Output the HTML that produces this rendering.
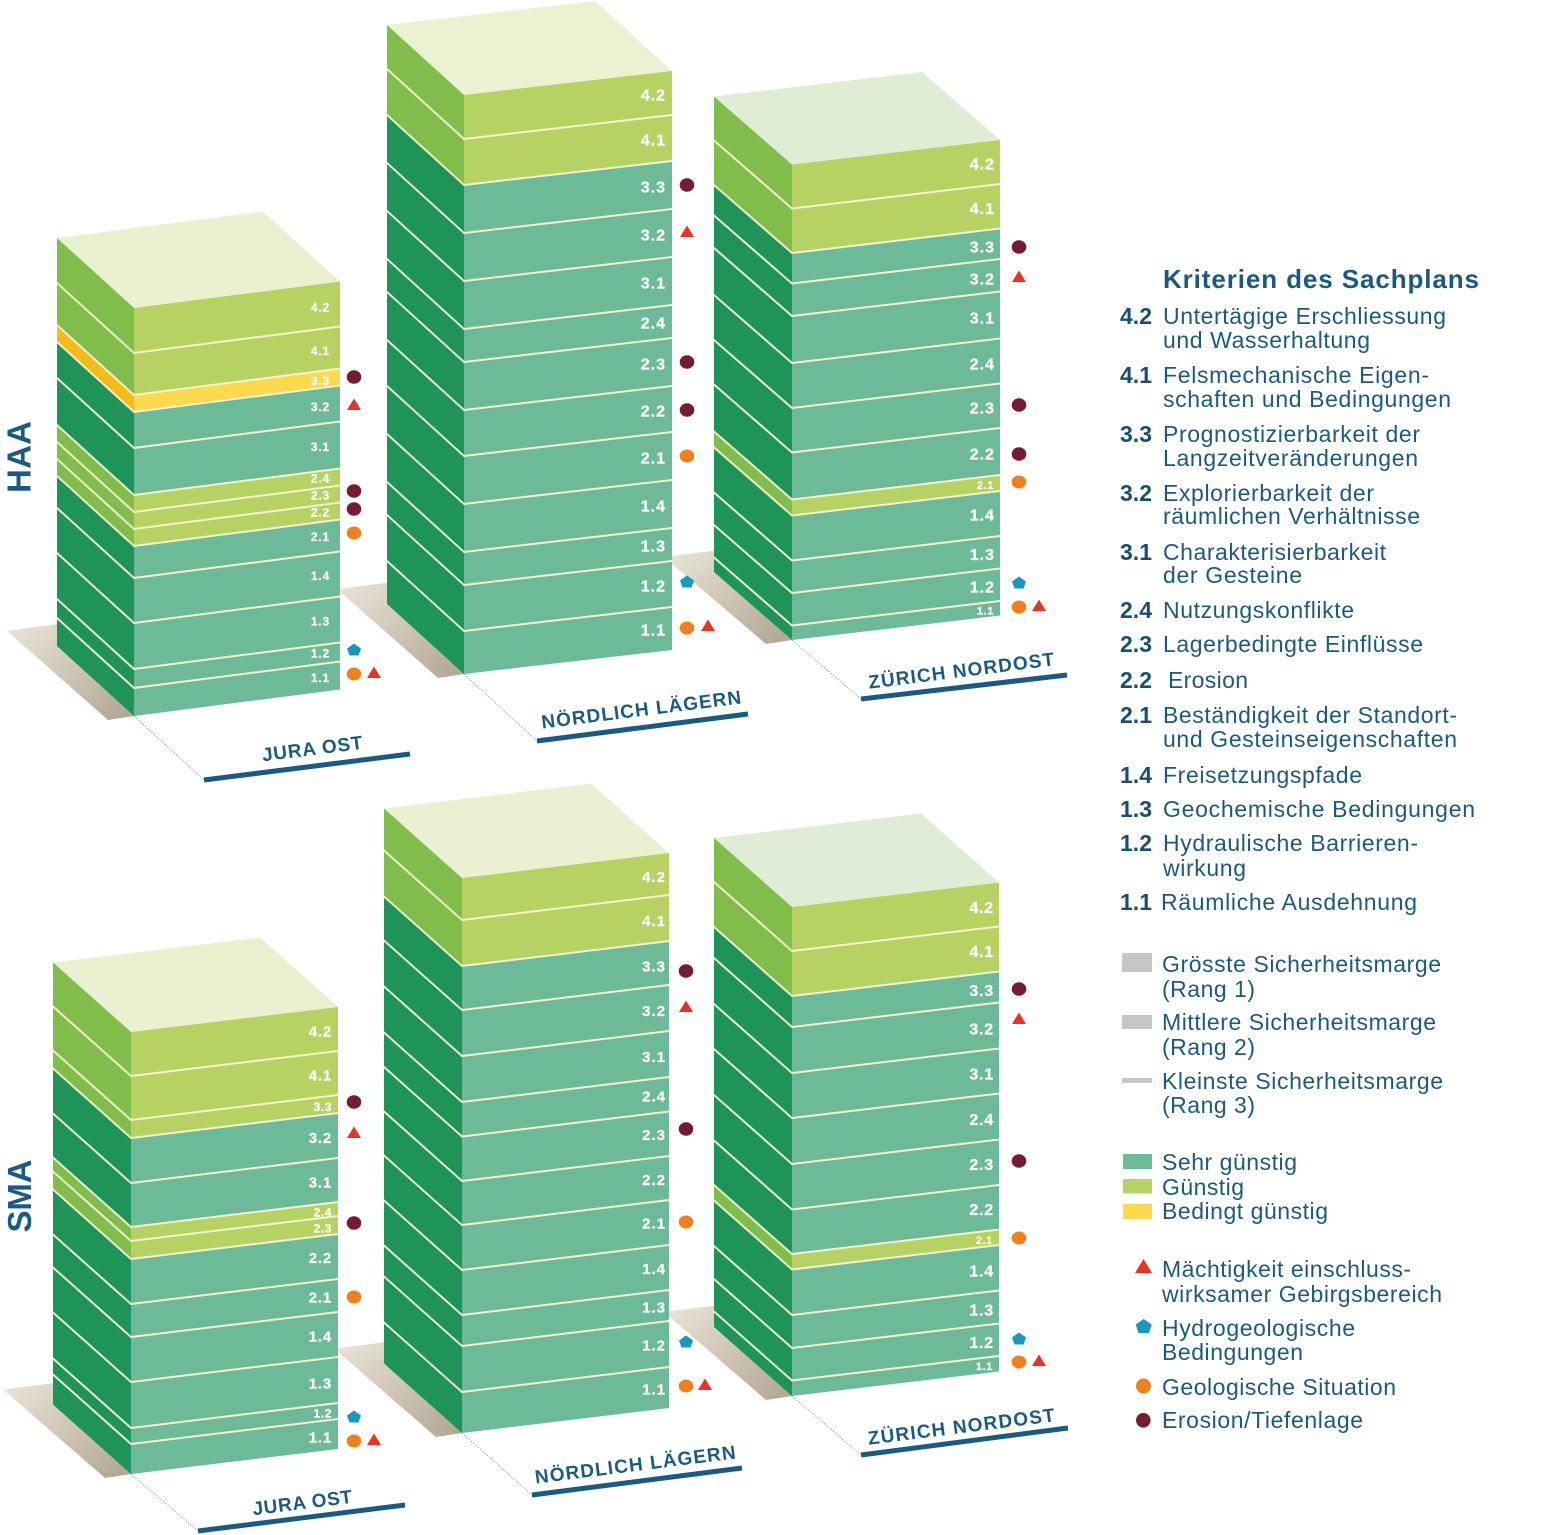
<!DOCTYPE html>
<html><head><meta charset="utf-8"><style>
html,body{margin:0;padding:0;background:#fff;}
svg{display:block}
.t{fill:#6dba98}.g{fill:#b5d262}.y{fill:#fdd94e}
.dt{fill:#1e9459}.dg{fill:#80bd4b}.dy{fill:#f5bb1a}
.sep{stroke:#f4f2cf;stroke-width:2;fill:none}
.sepl{stroke:#f4f2cf;stroke-width:2.6;fill:none}
.lb{font-family:"Liberation Sans",sans-serif;font-weight:bold;fill:#fff;stroke:#fff;stroke-width:.25;text-anchor:end;dominant-baseline:central}
.s1{font-size:12px;letter-spacing:.8px}.s2{font-size:16px;letter-spacing:1px}.s4{font-size:15px;letter-spacing:.8px}.sm{font-size:11px;letter-spacing:.6px}.sm2{font-size:12px;letter-spacing:.6px}
.gl{font-family:"Liberation Sans",sans-serif;font-weight:bold;font-size:19px;fill:#1a5b84;text-anchor:middle}
.ul{stroke:#1a5b84;stroke-width:5;fill:none}
.dot{stroke:#5b86aa;stroke-width:.8;stroke-dasharray:1.2 1.8;fill:none}
.lg{font-family:"Liberation Sans",sans-serif;font-size:23px;fill:#1a5a80}
.ln{font-family:"Liberation Sans",sans-serif;font-size:23px;font-weight:bold;fill:#174f73}
.big{font-family:"Liberation Sans",sans-serif;font-weight:bold;font-size:33px;fill:#1a5b84;text-anchor:middle}
</style></head><body>
<svg width="1561" height="1535" viewBox="0 0 1561 1535" xmlns="http://www.w3.org/2000/svg">
<defs>
<linearGradient id="sh" x1="0" y1="0" x2="1" y2="1"><stop offset="0" stop-color="#ece7dc"/><stop offset="1" stop-color="#b1a590"/></linearGradient>
<polygon id="tri" points="-7,5 7,5 0,-6.5" fill="#e63323"/>
<polygon id="pent" points="0,-6.5 7,-1.5 4.5,5.5 -4.5,5.5 -7,-1.5" fill="#1898bf"/>
<ellipse id="dc" rx="7.3" ry="6.8" fill="#761c30"/>
<ellipse id="oc" rx="7.3" ry="6.5" fill="#f07f1e"/>
</defs>
<rect width="1561" height="1535" fill="#fff"/>

<!-- shadows -->
<polygon points="7,631 87,620 134,716 108,720" fill="url(#sh)"/>
<polygon points="337,589 417,579 464,674 438,678" fill="url(#sh)"/>
<polygon points="664,557 744,547 792,640 766,644" fill="url(#sh)"/>
<polygon points="3,1389.5 83,1379.5 131,1474 105,1478" fill="url(#sh)"/>
<polygon points="334,1348.5 414,1338.5 462,1433 436,1437" fill="url(#sh)"/>
<polygon points="664,1312 744,1302 792,1396 766,1400" fill="url(#sh)"/>

<!-- dotted ground lines, underlines, labels -->
<path class="dot" d="M134 716L204 780M464 674L537 741M792 640L861 699M131 1474L198 1531M462 1433L532 1495M792 1396L861 1455"/>
<path class="ul" d="M204 780L410 754M537 741L748 714M861 699L1067 675M198 1531L405 1505M532 1495L742 1468M861 1455L1068 1428"/>
<text class="gl" transform="translate(313,755) rotate(-7.2)" textLength="101">JURA OST</text>
<text class="gl" transform="translate(642,716) rotate(-7.2)" textLength="201">NÖRDLICH LÄGERN</text>
<text class="gl" transform="translate(962,677) rotate(-7.2)" textLength="187">ZÜRICH NORDOST</text>
<text class="gl" transform="translate(303,1509) rotate(-7.2)" textLength="100">JURA OST</text>
<text class="gl" transform="translate(636,1471) rotate(-7.2)" textLength="202">NÖRDLICH LÄGERN</text>
<text class="gl" transform="translate(962,1433) rotate(-7.2)" textLength="188">ZÜRICH NORDOST</text>

<!-- HAA / SMA -->
<text class="big" transform="translate(30.5,457) rotate(-90)" textLength="72">HAA</text>
<text class="big" transform="translate(31,1196) rotate(-90)" textLength="73">SMA</text>

<!-- ===== Stack 1: HAA Jura Ost ===== -->
<polygon points="57,238 263,211.5 340,281.5 134,308" fill="#e9f1d1"/>
<g transform="matrix(1,0.909091,0,1,0,-121.818)">
<rect x="57" y="308" width="77" height="87" class="dg"/>
<rect x="57" y="395" width="77" height="17" class="dy"/>
<rect x="57" y="412" width="77" height="83" class="dt"/>
<rect x="57" y="495" width="77" height="51" class="dg"/>
<rect x="57" y="546" width="77" height="170" class="dt"/>
<path class="sepl" d="M57 353h77M57 395h77M57 412h77M57 448h77M57 495h77M57 512h77M57 529h77M57 546h77M57 578h77M57 623h77M57 669h77M57 688h77"/>
</g>
<g transform="matrix(1,-0.128641,0,1,0,17.238)">
<rect x="134" y="308" width="206" height="87" class="g"/>
<rect x="134" y="395" width="206" height="17" class="y"/>
<rect x="134" y="412" width="206" height="83" class="t"/>
<rect x="134" y="495" width="206" height="51" class="g"/>
<rect x="134" y="546" width="206" height="170" class="t"/>
<path class="sep" d="M134 353h206M134 395h206M134 412h206M134 448h206M134 495h206M134 512h206M134 529h206M134 546h206M134 578h206M134 623h206M134 669h206M134 688h206"/>
</g>
<g class="lb s1">
<text x="330" y="307.5">4.2</text><text x="330" y="351">4.1</text>
<text x="330" y="381">3.3</text><text x="330" y="407">3.2</text>
<text x="330" y="447">3.1</text><text x="330" y="478.5">2.4</text>
<text x="330" y="495.5">2.3</text><text x="330" y="512.5">2.2</text>
<text x="330" y="537">2.1</text><text x="330" y="576">1.4</text>
<text x="330" y="621.5">1.3</text><text x="330" y="653.5">1.2</text>
<text x="330" y="678">1.1</text>
</g>
<use href="#dc" x="354" y="377"/><use href="#tri" x="354" y="405"/><use href="#dc" x="354" y="491"/><use href="#dc" x="354" y="509"/><use href="#oc" x="354" y="533"/><use href="#pent" x="354" y="650"/><use href="#oc" x="354" y="674"/><use href="#tri" x="374" y="673"/>

<!-- ===== Stack 2: HAA Nördlich Lägern ===== -->
<polygon points="387,25 595,1 672,71 464,95" fill="#eaf2d2"/>
<g transform="matrix(1,0.909091,0,1,0,-421.818)">
<rect x="387" y="95" width="77" height="90" class="dg"/>
<rect x="387" y="185" width="77" height="489" class="dt"/>
<path class="sepl" d="M387 139h77M387 185h77M387 233h77M387 281h77M387 329h77M387 362h77M387 410h77M387 456h77M387 504h77M387 552h77M387 585h77M387 631h77"/>
</g>
<g transform="matrix(1,-0.115385,0,1,0,53.538)">
<rect x="464" y="95" width="208" height="90" class="g"/>
<rect x="464" y="185" width="208" height="489" class="t"/>
<path class="sep" d="M464 139h208M464 185h208M464 233h208M464 281h208M464 329h208M464 362h208M464 410h208M464 456h208M464 504h208M464 552h208M464 585h208M464 631h208"/>
</g>
<g class="lb s2">
<text x="666" y="96">4.2</text><text x="666" y="141">4.1</text>
<text x="666" y="188">3.3</text><text x="666" y="236">3.2</text>
<text x="666" y="284">3.1</text><text x="666" y="324">2.4</text>
<text x="666" y="365">2.3</text><text x="666" y="412">2.2</text>
<text x="666" y="459">2.1</text><text x="666" y="507">1.4</text>
<text x="666" y="547">1.3</text><text x="666" y="587">1.2</text>
<text x="666" y="631">1.1</text>
</g>
<use href="#dc" x="687" y="185"/><use href="#tri" x="687" y="232"/><use href="#dc" x="687" y="362"/><use href="#dc" x="687" y="410"/><use href="#oc" x="687" y="456"/><use href="#pent" x="687" y="582"/><use href="#oc" x="687" y="628"/><use href="#tri" x="708" y="626"/>

<!-- ===== Stack 3: HAA Zürich Nordost ===== -->
<polygon points="714,96.5 922,72 1000,140 792,164.5" fill="#e0edd5"/>
<g transform="matrix(1,0.871795,0,1,0,-690.462)">
<rect x="714" y="164.5" width="78" height="88.5" class="dg"/>
<rect x="714" y="253" width="78" height="246.5" class="dt"/>
<rect x="714" y="499.5" width="78" height="16" class="dg"/>
<rect x="714" y="515.5" width="78" height="124.5" class="dt"/>
<path class="sepl" d="M714 208.5h78M714 253h78M714 283.5h78M714 316h78M714 363h78M714 408h78M714 452.5h78M714 499.5h78M714 515.5h78M714 560.5h78M714 593h78M714 625.5h78"/>
</g>
<g transform="matrix(1,-0.117788,0,1,0,93.288)">
<rect x="792" y="164.5" width="208" height="88.5" class="g"/>
<rect x="792" y="253" width="208" height="246.5" class="t"/>
<rect x="792" y="499.5" width="208" height="16" class="g"/>
<rect x="792" y="515.5" width="208" height="124.5" class="t"/>
<path class="sep" d="M792 208.5h208M792 253h208M792 283.5h208M792 316h208M792 363h208M792 408h208M792 452.5h208M792 499.5h208M792 515.5h208M792 560.5h208M792 593h208M792 625.5h208"/>
</g>
<g class="lb s2">
<text x="995" y="165">4.2</text><text x="995" y="209.5">4.1</text>
<text x="995" y="248">3.3</text><text x="995" y="280">3.2</text>
<text x="995" y="319">3.1</text><text x="995" y="365">2.4</text>
<text x="995" y="409">2.3</text><text x="995" y="455">2.2</text>
<text x="994" y="486" class="sm">2.1</text><text x="995" y="516">1.4</text>
<text x="995" y="555.5">1.3</text><text x="995" y="588">1.2</text>
<text x="994" y="611.5" class="sm">1.1</text>
</g>
<use href="#dc" x="1019" y="247"/><use href="#tri" x="1019" y="277"/><use href="#dc" x="1019" y="405"/><use href="#dc" x="1019" y="454"/><use href="#oc" x="1019" y="482"/><use href="#pent" x="1019" y="583"/><use href="#oc" x="1019" y="607"/><use href="#tri" x="1039" y="606"/>

<!-- ===== Stack 4: SMA Jura Ost ===== -->
<polygon points="53,962.5 260,937.5 338,1007 131,1032" fill="#e9f1d0"/>
<g transform="matrix(1,0.891026,0,1,0,-116.724)">
<rect x="53" y="1032" width="78" height="106" class="dg"/>
<rect x="53" y="1138" width="78" height="89" class="dt"/>
<rect x="53" y="1227" width="78" height="32" class="dg"/>
<rect x="53" y="1259" width="78" height="215" class="dt"/>
<path class="sepl" d="M53 1076h78M53 1120h78M53 1138h78M53 1183h78M53 1227h78M53 1241h78M53 1259h78M53 1304h78M53 1337h78M53 1382h78M53 1428h78M53 1444h78"/>
</g>
<g transform="matrix(1,-0.120773,0,1,0,15.821)">
<rect x="131" y="1032" width="207" height="106" class="g"/>
<rect x="131" y="1138" width="207" height="89" class="t"/>
<rect x="131" y="1227" width="207" height="32" class="g"/>
<rect x="131" y="1259" width="207" height="215" class="t"/>
<path class="sep" d="M131 1076h207M131 1120h207M131 1138h207M131 1183h207M131 1227h207M131 1241h207M131 1259h207M131 1304h207M131 1337h207M131 1382h207M131 1428h207M131 1444h207"/>
</g>
<g class="lb s4">
<text x="332" y="1032">4.2</text><text x="332" y="1076">4.1</text>
<text x="332" y="1107" class="sm2">3.3</text><text x="332" y="1138.5">3.2</text>
<text x="332" y="1183">3.1</text><text x="332" y="1212.5" class="sm2">2.4</text>
<text x="332" y="1228.5" class="sm2">2.3</text><text x="332" y="1258.5">2.2</text>
<text x="332" y="1298">2.1</text><text x="332" y="1337">1.4</text>
<text x="332" y="1384">1.3</text><text x="332" y="1413.5" class="sm2">1.2</text>
<text x="332" y="1438">1.1</text>
</g>
<use href="#dc" x="354" y="1102"/><use href="#tri" x="354" y="1133"/><use href="#dc" x="354" y="1223"/><use href="#oc" x="354" y="1297"/><use href="#pent" x="354" y="1417"/><use href="#oc" x="354" y="1441"/><use href="#tri" x="374" y="1440"/>

<!-- ===== Stack 5: SMA Nördlich Lägern ===== -->
<polygon points="384,808.5 591,783.5 669,853 462,878" fill="#eaf1d2"/>
<g transform="matrix(1,0.891026,0,1,0,-411.654)">
<rect x="384" y="878" width="78" height="88" class="dg"/>
<rect x="384" y="966" width="78" height="467" class="dt"/>
<path class="sepl" d="M384 920h78M384 966h78M384 1010h78M384 1056h78M384 1102h78M384 1136.5h78M384 1181h78M384 1225h78M384 1270h78M384 1315h78M384 1346h78M384 1392h78"/>
</g>
<g transform="matrix(1,-0.120773,0,1,0,55.797)">
<rect x="462" y="878" width="207" height="88" class="g"/>
<rect x="462" y="966" width="207" height="467" class="t"/>
<path class="sep" d="M462 920h207M462 966h207M462 1010h207M462 1056h207M462 1102h207M462 1136.5h207M462 1181h207M462 1225h207M462 1270h207M462 1315h207M462 1346h207M462 1392h207"/>
</g>
<g class="lb s4" style="letter-spacing:1px">
<text x="666" y="877.5">4.2</text><text x="666" y="921.5">4.1</text>
<text x="666" y="967">3.3</text><text x="666" y="1011.5">3.2</text>
<text x="666" y="1057.5">3.1</text><text x="666" y="1097">2.4</text>
<text x="666" y="1135.5">2.3</text><text x="666" y="1180.5">2.2</text>
<text x="666" y="1224">2.1</text><text x="666" y="1269.5">1.4</text>
<text x="666" y="1308">1.3</text><text x="666" y="1346">1.2</text>
<text x="666" y="1390">1.1</text>
</g>
<use href="#dc" x="686" y="971"/><use href="#tri" x="686" y="1007"/><use href="#dc" x="686" y="1129"/><use href="#oc" x="686" y="1222"/><use href="#pent" x="686" y="1342"/><use href="#oc" x="686" y="1386"/><use href="#tri" x="705" y="1385"/>

<!-- ===== Stack 6: SMA Zürich Nordost ===== -->
<polygon points="714,838 921,813.5 999,882.5 792,907" fill="#e0edd6"/>
<g transform="matrix(1,0.884615,0,1,0,-700.615)">
<rect x="714" y="907" width="78" height="89" class="dg"/>
<rect x="714" y="996" width="78" height="258" class="dt"/>
<rect x="714" y="1254" width="78" height="15.5" class="dg"/>
<rect x="714" y="1269.5" width="78" height="126.5" class="dt"/>
<path class="sepl" d="M714 951h78M714 996h78M714 1027h78M714 1073h78M714 1118h78M714 1164h78M714 1209.5h78M714 1254h78M714 1269.5h78M714 1315h78M714 1348h78M714 1380.5h78"/>
</g>
<g transform="matrix(1,-0.118357,0,1,0,93.739)">
<rect x="792" y="907" width="207" height="89" class="g"/>
<rect x="792" y="996" width="207" height="258" class="t"/>
<rect x="792" y="1254" width="207" height="15.5" class="g"/>
<rect x="792" y="1269.5" width="207" height="126.5" class="t"/>
<path class="sep" d="M792 951h207M792 996h207M792 1027h207M792 1073h207M792 1118h207M792 1164h207M792 1209.5h207M792 1254h207M792 1269.5h207M792 1315h207M792 1348h207M792 1380.5h207"/>
</g>
<g class="lb s2" style="letter-spacing:.8px">
<text x="994" y="908.5">4.2</text><text x="994" y="952.5">4.1</text>
<text x="994" y="991.5">3.3</text><text x="994" y="1030">3.2</text>
<text x="994" y="1075">3.1</text><text x="994" y="1120.5">2.4</text>
<text x="994" y="1165.5">2.3</text><text x="994" y="1210.5">2.2</text>
<text x="993" y="1241" class="sm">2.1</text><text x="994" y="1272">1.4</text>
<text x="994" y="1311">1.3</text><text x="994" y="1343.5">1.2</text>
<text x="993" y="1367" class="sm">1.1</text>
</g>
<use href="#dc" x="1019" y="989"/><use href="#tri" x="1019" y="1019"/><use href="#dc" x="1019" y="1161"/><use href="#oc" x="1019" y="1238"/><use href="#pent" x="1019" y="1339"/><use href="#oc" x="1019" y="1362"/><use href="#tri" x="1039" y="1361"/>

<!-- ===== Legend ===== -->
<text x="1163" y="288" font-family="Liberation Sans, sans-serif" font-weight="bold" font-size="26" fill="#1a5a80" textLength="316">Kriterien des Sachplans</text>

<text class="ln" x="1120" y="324" textLength="32">4.2</text>
<text class="lg" x="1163" y="324" textLength="283">Untertägige Erschliessung</text>
<text class="lg" x="1163" y="348" textLength="207">und Wasserhaltung</text>

<text class="ln" x="1120" y="383" textLength="32">4.1</text>
<text class="lg" x="1163" y="383" textLength="266">Felsmechanische Eigen-</text>
<text class="lg" x="1163" y="407" textLength="288">schaften und Bedingungen</text>

<text class="ln" x="1120" y="442" textLength="32">3.3</text>
<text class="lg" x="1163" y="442" textLength="257">Prognostizierbarkeit der</text>
<text class="lg" x="1163" y="466" textLength="255">Langzeitveränderungen</text>

<text class="ln" x="1120" y="501" textLength="32">3.2</text>
<text class="lg" x="1163" y="501" textLength="211">Explorierbarkeit der</text>
<text class="lg" x="1163" y="524" textLength="257">räumlichen Verhältnisse</text>

<text class="ln" x="1120" y="560" textLength="32">3.1</text>
<text class="lg" x="1163" y="560" textLength="223">Charakterisierbarkeit</text>
<text class="lg" x="1163" y="583" textLength="139">der Gesteine</text>

<text class="ln" x="1120" y="618" textLength="32">2.4</text>
<text class="lg" x="1163" y="618" textLength="191">Nutzungskonflikte</text>

<text class="ln" x="1120" y="652" textLength="32">2.3</text>
<text class="lg" x="1163" y="652" textLength="260">Lagerbedingte Einflüsse</text>

<text class="ln" x="1120" y="688" textLength="32">2.2</text>
<text class="lg" x="1168" y="688" textLength="80">Erosion</text>

<text class="ln" x="1120" y="723" textLength="32">2.1</text>
<text class="lg" x="1163" y="723" textLength="294">Beständigkeit der Standort-</text>
<text class="lg" x="1163" y="747" textLength="294">und Gesteinseigenschaften</text>

<text class="ln" x="1120" y="783" textLength="32">1.4</text>
<text class="lg" x="1163" y="783" textLength="199">Freisetzungspfade</text>

<text class="ln" x="1120" y="817" textLength="32">1.3</text>
<text class="lg" x="1163" y="817" textLength="312">Geochemische Bedingungen</text>

<text class="ln" x="1120" y="851" textLength="32">1.2</text>
<text class="lg" x="1163" y="851" textLength="255">Hydraulische Barrieren-</text>
<text class="lg" x="1163" y="876" textLength="83">wirkung</text>

<text class="ln" x="1120" y="910" textLength="32">1.1</text>
<text class="lg" x="1161" y="910" textLength="256">Räumliche Ausdehnung</text>

<rect x="1122" y="953" width="30" height="19" fill="#c6c6c6"/>
<text class="lg" x="1162" y="972" textLength="279">Grösste Sicherheitsmarge</text>
<text class="lg" x="1162" y="997" textLength="93">(Rang 1)</text>
<rect x="1122" y="1015" width="30" height="14" fill="#c6c6c6"/>
<text class="lg" x="1162" y="1030" textLength="274">Mittlere Sicherheitsmarge</text>
<text class="lg" x="1162" y="1055" textLength="93">(Rang 2)</text>
<rect x="1122" y="1078" width="30" height="5" fill="#c6c6c6"/>
<text class="lg" x="1162" y="1089" textLength="281">Kleinste Sicherheitsmarge</text>
<text class="lg" x="1162" y="1113" textLength="93">(Rang 3)</text>

<rect x="1123" y="1154" width="29" height="15" fill="#6dba98"/>
<text class="lg" x="1162" y="1170" textLength="135">Sehr günstig</text>
<rect x="1123" y="1179" width="29" height="14.5" fill="#b5d262"/>
<text class="lg" x="1162" y="1195" textLength="82">Günstig</text>
<rect x="1123" y="1204" width="29" height="15" fill="#fdd94e"/>
<text class="lg" x="1162" y="1219" textLength="166">Bedingt günstig</text>

<polygon points="1135,1273 1152,1273 1143.5,1259" fill="#e63323"/>
<text class="lg" x="1162" y="1277" textLength="249">Mächtigkeit einschluss-</text>
<text class="lg" x="1162" y="1302" textLength="280">wirksamer Gebirgsbereich</text>
<polygon points="1143.7,1319 1151.7,1324.5 1149,1333 1138.5,1333 1135.7,1324.5" fill="#1898bf"/>
<text class="lg" x="1162" y="1336" textLength="193">Hydrogeologische</text>
<text class="lg" x="1162" y="1360" textLength="141">Bedingungen</text>
<circle cx="1143.5" cy="1386" r="7.5" fill="#f07f1e"/>
<text class="lg" x="1162" y="1395" textLength="234">Geologische Situation</text>
<circle cx="1143.3" cy="1420.3" r="7.3" fill="#761c30"/>
<text class="lg" x="1162" y="1428" textLength="201">Erosion/Tiefenlage</text>
</svg>
</body></html>
